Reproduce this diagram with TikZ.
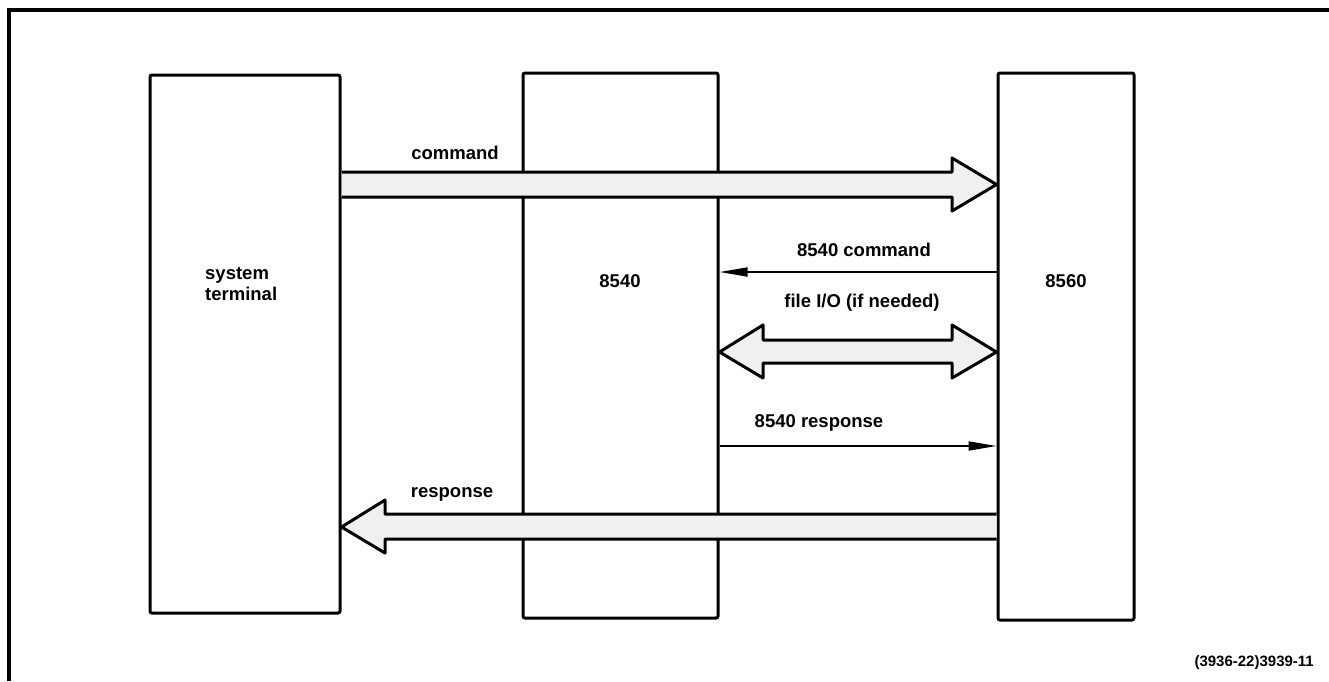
\documentclass[tikz,border=0pt]{standalone}
\usepackage{fontspec}
\setmainfont{Liberation Sans}
\usetikzlibrary{arrows.meta}
\begin{document}
\begin{tikzpicture}[x=1pt,y=-1pt,
  box/.style={draw, line width=3pt, rounded corners=2pt, inner sep=0pt},
  lbl/.style={font=\bfseries\fontsize{18.5}{20.5}\selectfont, inner sep=0pt},
  fat/.style={draw, line width=3pt, line join=round, fill=gray!12},
  thin/.style={line width=1.8pt, -{Triangle[length=28pt,width=9pt]}}]
\useasboundingbox (0,0) rectangle (1329,681);
% frame (top and left only)
\draw[line width=3.5pt] (1329,10) -- (9,10) -- (9,681);
% boxes
\node[box, minimum width=190pt, minimum height=538pt] (st) at (245,344) {};
\node[box, minimum width=195pt, minimum height=545pt] (b40) at (620.5,345.5) {};
\node[box, minimum width=136pt, minimum height=547pt] (b60) at (1066,346.5) {};
% box labels
\node[lbl, align=left, anchor=west] (stl) at (205,284) {system\\terminal};
\node[lbl] (l40) at (620,281) {8540};
\node[lbl] (l60) at (1066,281) {8560};
% command fat arrow
\draw[fat] (st.east |- 0,172) -- (952,172) -- (952,158) -- (b60.west |- 0,184.5) -- (952,211) -- (952,197) -- (st.east |- 0,197);
\node[lbl] (lcmd) at (455,153) {command};
% 8540 command
\coordinate (c1) at (b60.west |- 0,272);
\coordinate (c2) at (b40.east |- 0,272);
\draw[thin] (c1) -- (c2);
\node[lbl] (l40c) at (864,250) {8540 command};
% file I/O
\node[lbl] (lfio) at (862,303) {file I/O (if needed)};
\draw[fat] (b40.east |- 0,352) -- (763,325) -- (763,340) -- (952,340) -- (952,325) -- (b60.west |- 0,352) -- (952,378) -- (952,363) -- (763,363) -- (763,378) -- cycle;
% 8540 response
\coordinate (r1) at (b40.east |- 0,446);
\coordinate (r2) at (b60.west |- 0,446);
\draw[thin] (r1) -- (r2);
\node[lbl] (l40r) at (819,423) {8540 response};
% response fat arrow
\draw[fat] (b60.west |- 0,514) -- (385,514) -- (385,500) -- (st.east |- 0,527) -- (385,553) -- (385,539) -- (b60.west |- 0,539);
\node[lbl] (lresp) at (452,494) {response};
% footnote
\node[font=\bfseries\fontsize{15}{17}\selectfont, anchor=east, inner sep=0pt] (fn) at (1314,663) {(3936-22)3939-11};
\end{tikzpicture}
\end{document}
